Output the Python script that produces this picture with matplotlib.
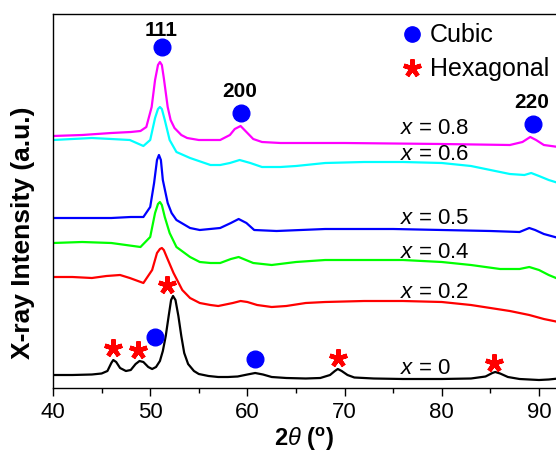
import numpy as np
import matplotlib
matplotlib.use('Agg')
import matplotlib.pyplot as plt
from matplotlib.lines import Line2D

plt.rcParams['font.family'] = ['Liberation Sans', 'DejaVu Sans']
plt.rcParams['mathtext.fontset'] = 'custom'
plt.rcParams['mathtext.rm'] = 'Liberation Sans'
plt.rcParams['mathtext.it'] = 'Liberation Sans:italic'
plt.rcParams['mathtext.bf'] = 'Liberation Sans:bold'

# --- data (2theta, offset intensity in arbitrary units) ---
tt_00 = [40, 42, 44, 45, 45.6, 46.0, 46.2, 46.5, 46.9, 47.5, 48.0, 48.5, 48.9, 49.3, 49.8, 50.2,
         50.6, 51.0, 51.3, 51.6, 51.9, 52.15, 52.35, 52.6, 52.9, 53.2, 53.5, 53.9, 54.5, 55, 56, 57,
         58, 59, 60, 60.8, 61.6, 62.5, 64, 66, 67.5, 68.5, 69.0, 69.3, 69.7, 70.3, 71, 73, 76, 80,
         83, 84.5, 85.2, 85.5, 86, 86.8, 88, 90, 91, 92]
I_00 = [13, 13, 13.5, 14.5, 17, 25, 28, 26, 20, 17, 18, 24, 27, 26, 21, 19,
        21, 27, 37, 52, 72, 88, 92, 88, 72, 52, 35, 24, 17, 14, 12, 11,
        11, 11.5, 13.5, 15, 13.5, 11, 10, 9.5, 10, 13, 17, 19, 17, 13, 10.5, 9.5, 9, 9,
        9.5, 11.5, 15, 16, 14.5, 11, 9, 8, 8.5, 9.5]

tt_02 = [40, 42, 44, 45.5, 46.9, 47.9, 49.3, 50.2, 50.7, 51.0, 51.2, 51.4, 51.7, 52.4, 53.3,
         54.1, 55.1, 56.2, 57, 58.5, 59.3, 60, 61, 62.5, 64, 66, 68, 72, 76, 80,
         83, 85, 87, 89, 90.5, 92]
I_02 = [111, 111, 110, 112, 113, 110, 105, 118, 135, 139, 140, 138, 131, 115, 98,
        90, 85, 83, 82, 85, 87, 86, 83, 81, 82, 85, 86, 87, 87, 86,
        83, 80, 77, 73, 69, 66]

tt_04 = [40, 43, 46, 49.0, 50.0, 50.5, 50.8, 51.0, 51.2, 51.5, 52.0, 52.7, 54.1, 55.1, 56.2,
         57.2, 58.3, 59.1, 60.6, 62.5, 65, 68, 72, 76, 80, 83, 86, 88, 89, 90, 91, 92]
I_04 = [145, 146, 145, 141, 151, 175, 184, 186, 183, 171, 155, 141, 131, 126, 125,
        125, 129, 131, 125, 123, 126, 128, 128, 128, 126, 123, 119, 119, 121, 118, 113, 109]

tt_05 = [40, 43, 46, 48, 49.3, 50.0, 50.4, 50.7, 50.9, 51.1, 51.3, 51.8, 52.2, 52.7, 54.1, 55.1,
         57.2, 58.3, 59.1, 59.9, 60.7, 63, 68, 75, 80, 85, 88, 89, 89.6, 90.5, 92]
I_05 = [170, 170, 170, 171, 171, 181, 205, 228, 233, 228, 208, 185, 175, 168, 160, 158,
        160, 165, 169, 165, 158, 157, 159, 159, 158, 157, 156, 160, 158, 154, 150]

tt_06 = [40, 42, 44, 46, 47.9, 49.3, 50.0, 50.5, 50.8, 51.0, 51.2, 51.5, 52.0, 52.7, 54.1, 56.2,
         57.2, 58.2, 59.2, 60.3, 61.5, 63.4, 65, 68, 72, 76, 80, 83, 85, 87, 88.5, 89.2, 90, 91, 92]
I_06 = [248, 249, 250, 249, 248, 242, 248, 270, 279, 281, 279, 268, 248, 236, 230, 223,
        223, 225, 228, 225, 221, 221, 222, 225, 226, 226, 225, 222, 218, 214, 213, 215, 212, 208, 205]

tt_08 = [40, 43, 46, 48, 49.0, 49.6, 50.15, 50.5, 50.8, 51.0, 51.2, 51.4, 51.8, 52.1, 52.5, 53.2,
         53.8, 55, 57.2, 58.2, 58.7, 59.3, 59.9, 60.6, 61.5, 63.4, 70, 80, 87, 88.3, 89.1, 89.7,
         90.5, 92]
I_08 = [252, 253, 255, 256, 257, 261, 281, 308, 323, 326, 323, 310, 281, 268, 260, 253,
        250, 248, 248, 253, 259, 262, 256, 249, 246, 245, 245, 244, 243, 246, 251, 248,
        243, 241]

series = [(tt_00, I_00, 'black', '0'), (tt_02, I_02, '#ff0000', '0.2'),
          (tt_04, I_04, '#00ff00', '0.4'), (tt_05, I_05, '#0000ff', '0.5'),
          (tt_06, I_06, '#00ffff', '0.6'), (tt_08, I_08, '#ff00ff', '0.8')]
label_y = {'0': 19, '0.2': 96, '0.4': 135, '0.5': 170, '0.6': 233, '0.8': 260}

# phase markers
cubic_tt = [51.2, 59.3, 89.4, 50.5, 60.8]
cubic_I = [341, 275, 264, 51, 29]
hex_tt = [46.2, 48.7, 51.7, 69.3, 85.4]
hex_I = [40, 38, 103, 30, 25]
hkl = ['111', '200', '220']
hkl_tt = [51.1, 59.2, 89.2]
hkl_I = [358, 297, 286]

star = (5, 2, 0)  # five-armed asterisk

fig = plt.figure(figsize=(5.56, 4.54), dpi=100)
ax = fig.add_axes([53/556, 1-388/454, 503/556, 374/454])

for tt, I, col, lab in series:
    ax.plot(tt, I, color=col, lw=1.6)
    ax.text(75.7, label_y[lab], r'$x$ = ' + lab, fontsize=16, va='center', ha='left')

ax.plot(cubic_tt, cubic_I, 'o', color='#0000ff', ms=12, ls='none')
ax.plot(hex_tt, hex_I, marker=star, color='#ff0000', ms=13, mew=3.2, ls='none')
for t, x, y in zip(hkl, hkl_tt, hkl_I):
    ax.text(x, y, t, fontsize=15, fontweight='bold', ha='center', va='center')

handles = [Line2D([], [], marker='o', color='#0000ff', ls='none', ms=11),
           Line2D([], [], marker=star, color='#ff0000', ls='none', ms=13, mew=3.2)]
ax.legend(handles, ['Cubic', 'Hexagonal'], loc='upper left', bbox_to_anchor=(0.689, 0.975),
          frameon=False, fontsize=18, handlelength=1.0, handletextpad=0.2,
          labelspacing=0.4, borderpad=0, borderaxespad=0)

ax.set_xlim(40, 91.75)
ax.set_ylim(0, 374)
ax.set_xticks([40, 50, 60, 70, 80, 90])
ax.set_xticks([45, 55, 65, 75, 85], minor=True)
ax.set_yticks([])
ax.tick_params(axis='x', which='major', direction='out', length=6, width=1, labelsize=16, pad=4)
ax.tick_params(axis='x', which='minor', direction='out', length=3.5, width=1)
ax.spines['right'].set_visible(False)
for s in ['left', 'top', 'bottom']:
    ax.spines[s].set_linewidth(1)

ax.set_xlabel(r'$\mathbf{2}\mathit{\theta}\ \mathbf{(^{o})}$', fontsize=17, labelpad=2)
ax.set_ylabel('X-ray Intensity (a.u.)', fontsize=19, fontweight='bold')
ax.yaxis.set_label_coords(-0.036, 0.414)

fig.savefig('out.png', dpi=100)
